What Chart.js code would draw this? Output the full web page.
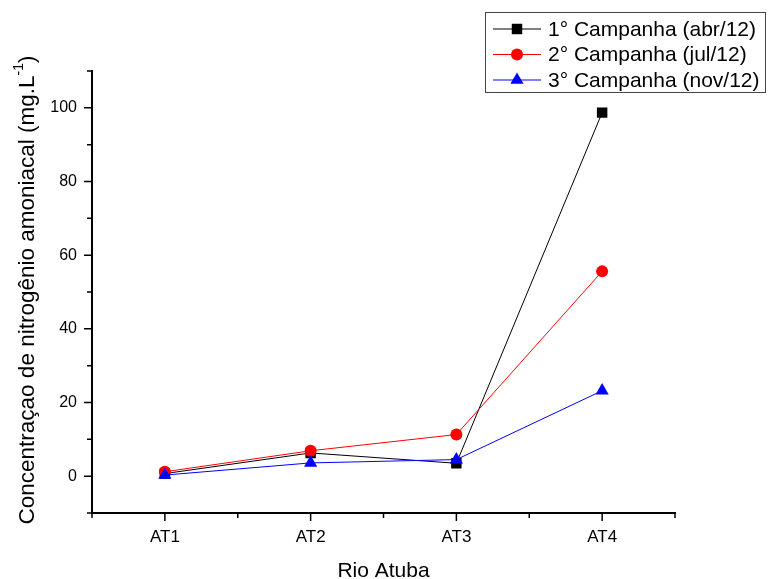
<!DOCTYPE html>
<html>
<head>
<meta charset="utf-8">
<script src="https://cdn.jsdelivr.net/npm/chart.js@4.4.0/dist/chart.umd.min.js"></script>
<style>
  body { margin: 0; background: #fff; }
  canvas { display: block; }
</style>
</head>
<body>
<canvas id="myChart" width="768" height="579"></canvas>
<script>
// sampling points on the river
const stations = ['AT1', 'AT2', 'AT3', 'AT4'];

// ammoniacal nitrogen per campaign (mg/L)
const campaign1 = [0.7, 6.3, 3.5, 98.7];
const campaign2 = [1.2, 6.9, 11.3, 55.6];
const campaign3 = [0.3, 3.6, 4.5, 23.2];

const seriesLabels = ['1° Campanha (abr/12)', '2° Campanha (jul/12)', '3° Campanha (nov/12)'];

const yMajorTicks = [0, 20, 40, 60, 80, 100];
const yMinorTicks = [-10, 10, 30, 50, 70, 90, 110];

const FONT = '"Liberation Sans", Arial, sans-serif';

function marker(ctx, style, x, y, r) {
    ctx.beginPath();
    if (style === 'rect') {
        const s = Math.SQRT1_2 * r;
        ctx.rect(x - s, y - s, 2 * s, 2 * s);
    } else if (style === 'triangle') {
        for (let k = 0; k < 3; k++) {
            const a = -Math.PI / 2 + k * 2 * Math.PI / 3;
            const px = x + Math.cos(a) * r, py = y + Math.sin(a) * r;
            k ? ctx.lineTo(px, py) : ctx.moveTo(px, py);
        }
        ctx.closePath();
    } else {
        ctx.arc(x, y, r, 0, Math.PI * 2);
    }
    ctx.fill();
}

// tick marks, axis titles and the boxed legend, drawn Origin style
const decor = {
    id: 'decor',
    afterDraw(chart) {
        const ctx = chart.ctx;
        const xs = chart.scales.x, ys = chart.scales.y;
        const area = chart.chartArea;
        ctx.save();
        ctx.strokeStyle = '#000';
        ctx.lineWidth = 1.5;

        ctx.beginPath();
        yMajorTicks.forEach(v => {
            const py = ys.getPixelForValue(v);
            ctx.moveTo(area.left - 8, py); ctx.lineTo(area.left, py);
        });
        yMinorTicks.forEach(v => {
            const py = ys.getPixelForValue(v);
            ctx.moveTo(area.left - 5, py); ctx.lineTo(area.left, py);
        });
        stations.forEach((s, i) => {
            const px = xs.getPixelForValue(i);
            ctx.moveTo(px, area.bottom); ctx.lineTo(px, area.bottom + 8);
        });
        for (let i = 0; i <= stations.length; i++) {
            const px = xs.getPixelForValue(i - 0.5);
            ctx.moveTo(px, area.bottom); ctx.lineTo(px, area.bottom + 5);
        }
        ctx.stroke();

        // axis titles
        ctx.fillStyle = '#000';
        ctx.font = '21px ' + FONT;
        ctx.textAlign = 'center';
        ctx.textBaseline = 'alphabetic';
        ctx.fillText('Rio Atuba', (area.left + area.right) / 2, 577);

        const parts = [
            { t: 'Concentraçao de nitrogênio amoniacal (mg.L', f: '22.5px ', dy: 0 },
            { t: '-1', f: '14px ', dy: -11 },
            { t: ')', f: '22.5px ', dy: 0 }
        ];
        let total = 0;
        parts.forEach(p => { ctx.font = p.f + FONT; p.w = ctx.measureText(p.t).width; total += p.w; });
        ctx.translate(34, 290);
        ctx.rotate(-Math.PI / 2);
        ctx.textAlign = 'left';
        let cx = -total / 2;
        parts.forEach(p => {
            ctx.font = p.f + FONT;
            ctx.fillText(p.t, cx, p.dy);
            cx += p.w;
        });
        ctx.setTransform(1, 0, 0, 1, 0, 0);

        // legend
        ctx.strokeStyle = '#444';
        ctx.lineWidth = 1;
        ctx.strokeRect(485.5, 12.5, 280, 80);
        ctx.font = '21px ' + FONT;
        ctx.textBaseline = 'middle';
        chart.data.datasets.forEach((ds, i) => {
            const ly = 29 + i * 25.5;
            ctx.strokeStyle = ds.borderColor;
            ctx.beginPath();
            ctx.moveTo(493, ly); ctx.lineTo(541, ly);
            ctx.stroke();
            ctx.fillStyle = ds.pointBackgroundColor;
            marker(ctx, ds.pointStyle, 517, ly, ds.pointRadius);
            ctx.fillStyle = '#000';
            ctx.fillText(ds.label, 548, ly + 1);
        });
        ctx.restore();
    }
};

const context = document.getElementById('myChart').getContext('2d');

new Chart(context, {
    type: 'line',
    data: {
        labels: stations,
        datasets: [{
            label: seriesLabels[0],
            data: campaign1,
            borderColor: '#000000',
            pointBackgroundColor: '#000000',
            pointBorderWidth: 0,
            pointStyle: 'rect',
            pointRadius: 7.4,
            borderWidth: 1,
            order: 3
        }, {
            label: seriesLabels[1],
            data: campaign2,
            borderColor: '#ff0000',
            pointBackgroundColor: '#ff0000',
            pointBorderWidth: 0,
            pointStyle: 'circle',
            pointRadius: 6,
            borderWidth: 1,
            order: 2
        }, {
            label: seriesLabels[2],
            data: campaign3,
            borderColor: '#0000ff',
            pointBackgroundColor: '#0000ff',
            pointBorderWidth: 0,
            pointStyle: 'triangle',
            pointRadius: 7.6,
            borderWidth: 1,
            order: 1
        }]
    },
    options: {
        responsive: false,
        animation: false,
        layout: { padding: { top: 71, right: 93, left: 0, bottom: 0 } },
        plugins: {
            legend: { display: false },
            tooltip: { enabled: false }
        },
        scales: {
            x: {
                offset: true,
                grid: { display: false, drawTicks: false },
                border: { display: true, color: '#000', width: 2 },
                ticks: {
                    padding: 14,
                    color: '#000',
                    font: { family: FONT, size: 17 }
                },
                afterFit(scale) { scale.height = 66; }
            },
            y: {
                min: -10,
                max: 110,
                grid: { display: false, drawTicks: false },
                border: { display: true, color: '#000', width: 2 },
                afterBuildTicks(scale) {
                    scale.ticks = yMajorTicks.concat(yMinorTicks)
                        .sort((a, b) => a - b)
                        .map(v => ({ value: v }));
                },
                ticks: {
                    autoSkip: false,
                    padding: 15,
                    color: '#000',
                    font: { family: FONT, size: 16 },
                    callback: v => yMajorTicks.includes(v) ? String(v) : ''
                },
                afterFit(scale) { scale.width = 92; }
            }
        }
    },
    plugins: [decor]
});
</script>
</body>
</html>
